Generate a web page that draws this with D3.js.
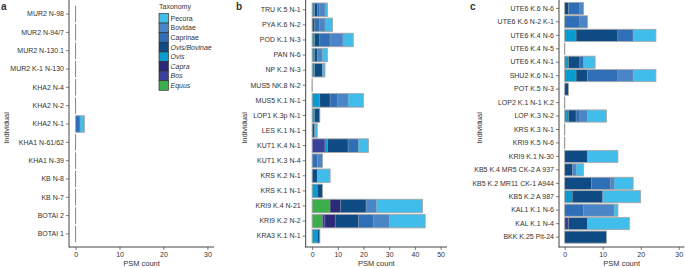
<!DOCTYPE html>
<html>
<head>
<meta charset="utf-8">
<script src="https://cdn.jsdelivr.net/npm/d3@7"></script>
<style>
  body { margin: 0; background: #fff; }
  svg text { font-family: "Liberation Sans", Arial, sans-serif; fill: #333; }
</style>
</head>
<body>
<div id="chart"></div>
<script>
// taxa in legend order; counts rows follow this order
var taxa = ["Pecora", "Bovidae", "Caprinae", "Ovis/Bovinae", "Ovis", "Capra", "Bos", "Equus"];
var taxaColors = ["#41bdec", "#4a85c8", "#2f6fb8", "#0f4c86", "#0a9bd0", "#2a2a78", "#39419b", "#3aaf4b"];
var italicTaxa = ["Ovis/Bovinae", "Ovis", "Capra", "Bos", "Equus"];

var individualsA = ["MUR2 N-98", "MUR2 N-94/7", "MUR2 N-130.1", "MUR2 K-1 N-130", "KHA2 N-4", "KHA2 N-2",
  "KHA2 N-1", "KHA1 N-61/62", "KHA1 N-39", "KB N-8", "KB N-7", "BOTAI 2", "BOTAI 1"];
var countsA = [
  [0,0,0,0,0,0,0,0], [0,0,0,0,0,0,0,0], [0,0,0,0,0,0,0,0], [0,0,0,0,0,0,0,0],
  [0,0,0,0,0,0,0,0], [0,0,0,0,0,0,0,0], [1,0,1,0,0,0,0,0], [0,0,0,0,0,0,0,0],
  [0,0,0,0,0,0,0,0], [0,0,0,0,0,0,0,0], [0,0,0,0,0,0,0,0], [0,0,0,0,0,0,0,0],
  [0,0,0,0,0,0,0,0]
];

var individualsB = ["TRU K.5 N-1", "PYA K.6 N-2", "POD K.1 N-3", "PAN N-6", "NP K.2 N-3", "MUS5 NK.8 N-2",
  "MUS5 K.1 N-1", "LOP1 K.3p N-1", "LES K.1 N-1", "KUT1 K.4 N-1", "KUT1 K.3 N-4", "KRS K.2 N-1",
  "KRS K.1 N-1", "KRI9 K.4 N-21", "KRI9 K.2 N-2", "KRA3 K.1 N-1"];
var countsB = [
  [1,2,1,1,1,0,0,0],
  [3,2,2,1,0,0,0,0],
  [4,5,4,2,1,0,0,0],
  [2,2,0,1,1,0,0,0],
  [1,0,0,3,1,0,0,0],
  [0,0,0,0,0,0,0,0],
  [6,4,3,4,3,0,0,0],
  [0,0,0,2,1,0,0,0],
  [1,0,0,1,0,0,0,0],
  [4,0,4,8,1,0,5,0],
  [0,2,2,0,0,0,0,0],
  [5,0,0,2,0,0,0,0],
  [0,0,0,2,2,0,0,0],
  [18,4,0,10,0,4,0,7],
  [14,6,6,9,0,4,1,4],
  [0,0,0,1,2,0,0,0]
];

var individualsC = ["UTE6 K.6 N-6", "UTE6 K.6 N-2 K-1", "UTE6 K.4 N-6", "UTE6 K.4 N-5", "UTE6 K.4 N-1",
  "SHU2 K.6 N-1", "POT K.5 N-3", "LOP2 K.1 N-1 K.2", "LOP K.3 N-2", "KRS K.3 N-1", "KRI9 K.5 N-6",
  "KRI9 K.1 N-30", "KB5 K.4 MR5 CK-2 A 937", "KB5 K.2 MR11 CK-1 A944", "KB5 K.2 A 987",
  "KAL1 K.1 N-6", "KAL K.1 N-4", "BKK K.25 Pit-24"];
var countsC = [
  [0,1,3,1,0,0,0,0],
  [0,2,4,0,0,0,0,0],
  [6,0,4,11,3,0,0,0],
  [0,0,0,0,0,0,0,0],
  [3,0,1,3,1,0,0,0],
  [6,4,8,3,3,0,0,0],
  [0,0,0,1,0,0,0,0],
  [0,0,0,0,0,0,0,0],
  [5,2,1,2,1,0,0,0],
  [0,0,0,0,0,0,0,0],
  [0,0,0,0,0,0,0,0],
  [8,0,0,6,0,0,0,0],
  [2,1,0,2,0,0,0,0],
  [5,1,5,7,0,0,0,0],
  [10,0,0,8,2,0,0,0],
  [1,8,5,0,0,0,0,0],
  [11,0,0,5,0,0,1,0],
  [0,0,0,11,0,0,0,0]
];

var ticksA = [0, 10, 20, 30], ticksB = [0, 10, 20, 30, 40, 50], ticksC = [0, 10, 20, 30];

var width = 685, height = 268, axisY = 247;

var svg = d3.select("#chart").append("svg")
    .attr("width", width)
    .attr("height", height);

var color = d3.scaleOrdinal().domain(taxa).range(taxaColors);
var stackKeys = taxa.slice().reverse();   // Equus drawn first, Pecora last

function drawPanel(opt) {
  var rows = opt.individuals.map(function (name, i) {
    var r = { name: name, total: d3.sum(opt.counts[i]) };
    taxa.forEach(function (t, j) { r[t] = opt.counts[i][j]; });
    return r;
  });

  var x = d3.scaleLinear().domain(opt.xdomain).range([opt.left, opt.right]);
  var y = d3.scaleBand().domain(opt.individuals).range(opt.yrange).padding(0.1);
  var g = svg.append("g");

  var series = d3.stack().keys(stackKeys)(rows);
  g.selectAll("g.layer")
    .data(series)
    .enter().append("g")
    .attr("class", "layer")
    .attr("fill", function (d) { return color(d.key); })
    .selectAll("rect")
    .data(function (d) { return d.filter(function (s) { return s[1] > s[0]; }); })
    .enter().append("rect")
    .attr("x", function (d) { return x(d[0]); })
    .attr("width", function (d) { return x(d[1]) - x(d[0]); })
    .attr("y", function (d) { return y(d.data.name); })
    .attr("height", y.bandwidth())
    .attr("stroke", "#9a9a9a")
    .attr("stroke-opacity", 0.6)
    .attr("stroke-width", 0.6);

  // outline of every bar (zero bars show as a thin line)
  g.selectAll("rect.outline")
    .data(rows)
    .enter().append("rect")
    .attr("class", "outline")
    .attr("x", x(0))
    .attr("width", function (d) { return x(d.total) - x(0); })
    .attr("y", function (d) { return y(d.name); })
    .attr("height", y.bandwidth())
    .attr("fill", "none")
    .attr("stroke", "#aaa")
    .attr("stroke-width", 0.7);
  g.selectAll("line.zero")
    .data(rows.filter(function (d) { return d.total === 0; }))
    .enter().append("line")
    .attr("x1", x(0)).attr("x2", x(0))
    .attr("y1", function (d) { return y(d.name); })
    .attr("y2", function (d) { return y(d.name) + y.bandwidth(); })
    .attr("stroke", "#777")
    .attr("stroke-width", 0.9);

  // axes
  var ya = g.append("g")
    .attr("transform", "translate(" + opt.left + ",0)")
    .call(d3.axisLeft(y).tickSize(3).tickSizeOuter(0).tickPadding(2));
  var xa = g.append("g")
    .attr("transform", "translate(0," + axisY + ")")
    .call(d3.axisBottom(x).tickValues(opt.ticks).tickSize(3).tickSizeOuter(0).tickPadding(2));
  [ya, xa].forEach(function (a) {
    a.select(".domain").remove();
    a.selectAll(".tick line").attr("stroke", "#444").attr("stroke-width", 0.7);
    a.selectAll("text").style("font-size", "7px").attr("fill", "#333");
  });
  g.append("line").attr("x1", opt.left).attr("x2", opt.left).attr("y1", 0).attr("y2", axisY + 0.5)
    .attr("stroke", "#444").attr("stroke-width", 1);
  g.append("line").attr("x1", opt.left).attr("x2", opt.right).attr("y1", axisY).attr("y2", axisY)
    .attr("stroke", "#444").attr("stroke-width", 1);

  g.append("text")
    .attr("x", (opt.left + opt.right) / 2).attr("y", 266)
    .attr("text-anchor", "middle").style("font-size", "7.5px")
    .text("PSM count");
  g.append("text")
    .attr("transform", "translate(" + opt.titleX + ",128) rotate(-90)")
    .attr("text-anchor", "middle").style("font-size", "7.5px")
    .text("Individual");
  svg.append("text")
    .attr("x", opt.labelX).attr("y", 10)
    .style("font-size", "10px").style("font-weight", "bold").attr("fill", "#000")
    .text(opt.label);
}

drawPanel({ individuals: individualsA, counts: countsA, ticks: ticksA, xdomain: [-1.5, 31.5],
  left: 69, right: 214, yrange: [4, 244], titleX: 9, labelX: 1, label: "a" });
drawPanel({ individuals: individualsB, counts: countsB, ticks: ticksB, xdomain: [-2.5, 52.5],
  left: 305.7, right: 447, yrange: [1.5, 244.5], titleX: 247, labelX: 236, label: "b" });
drawPanel({ individuals: individualsC, counts: countsC, ticks: ticksC, xdomain: [-1.5, 31.5],
  left: 559, right: 684.4, yrange: [1, 244.5], titleX: 482, labelX: 470, label: "c" });

// legend
var legend = svg.append("g").attr("transform", "translate(159,0)");
legend.append("text").attr("x", 0).attr("y", 9).style("font-size", "7px").text("Taxonomy");
var items = legend.selectAll("g.item")
  .data(taxa)
  .enter().append("g")
  .attr("transform", function (d, i) { return "translate(0," + (13.5 + i * 9.6) + ")"; });
items.append("rect")
  .attr("width", 9.4).attr("height", 9.6)
  .attr("fill", function (d) { return color(d); })
  .attr("stroke", "#333").attr("stroke-width", 0.7);
items.append("text")
  .attr("x", 11.5).attr("y", 7.3)
  .style("font-size", "7px")
  .style("font-style", function (d) { return italicTaxa.indexOf(d) >= 0 ? "italic" : "normal"; })
  .text(function (d) { return d; });
</script>
</body>
</html>
